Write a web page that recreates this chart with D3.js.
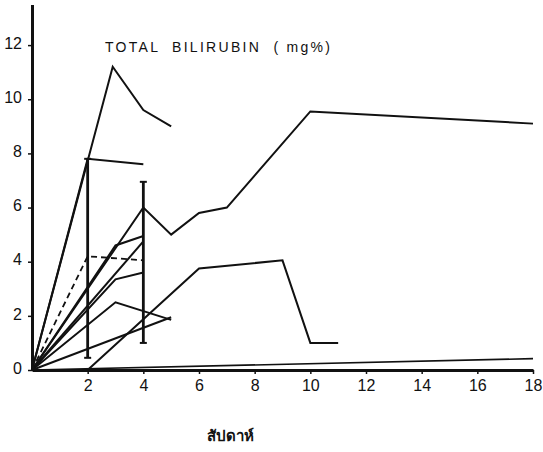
<!DOCTYPE html>
<html><head><meta charset="utf-8">
<script src="https://cdn.jsdelivr.net/npm/d3@7"></script>
<style>
body{margin:0;background:#fff;}
svg{display:block;}
text{font-family:"Liberation Sans",Arial,sans-serif;fill:#111;}
</style></head>
<body>
<svg id="c" width="543" height="452"></svg>
<script>
// ---- data (weeks, total bilirubin mg%) ----
const xTicks = [2,4,6,8,10,12,14,16,18];
const yTicks = [0,2,4,6,8,10,12];
const titleText = "TOTAL  BILIRUBIN  ( mg%)";
const xLabel = "สัปดาห์";

const patientA = [[0,0],[2.9,11.2],[4,9.6],[5,9.0]];
const patientB = [[0,0],[2,7.8],[4,7.6]];
const patientC = [[0,0],[4,6.0],[5,5.0],[6,5.8],[7,6.0],[10,9.55],[18,9.1]];
const patientD = [[0,0],[3,4.6],[4,4.95]];
const patientE = [[0,0],[4,4.75]];
const patientF = [[0,0],[3,3.35],[4,3.6]];
const patientG = [[0,0],[3,2.5],[5,1.85]];
const patientH = [[0,0],[5,1.95]];
const patientI = [[2,0],[6,3.75],[9,4.05],[10,1.0],[11,1.0]];
const patientJ = [[0,0],[18,0.42]];
const meanLine = [[0,0],[2,4.2],[4,4.05]];
const errWeeks = [2,4];
const errLow  = [0.45,1.0];
const errHigh = [7.8,6.95];

const solidSeries = [patientA,patientB,patientC,patientD,patientE,patientF,patientG,patientH,patientI];

const svg = d3.select("#c");
const x = d3.scaleLinear().domain([0,18]).range([32,533]);
const y = d3.scaleLinear().domain([0,13.5]).range([370,4.5]);

const line = d3.line().x(d=>x(d[0])).y(d=>y(d[1]));

// axes
const gx = svg.append("g").attr("transform","translate(0,370)")
  .call(d3.axisBottom(x).tickValues(xTicks).tickSize(4).tickSizeOuter(0).tickPadding(6));
gx.select(".domain").attr("stroke","#111").attr("stroke-width",3);
gx.selectAll(".tick line").attr("stroke","#111").attr("stroke-width",1.5);
gx.selectAll(".tick text").attr("font-size",16).attr("fill","#111");

const gy = svg.append("g").attr("transform","translate(32,0)")
  .call(d3.axisLeft(y).tickValues(yTicks).tickSize(4).tickSizeOuter(0).tickPadding(6));
gy.select(".domain").attr("stroke","#111").attr("stroke-width",3);
gy.selectAll(".tick line").attr("stroke","#111").attr("stroke-width",1.5);
gy.selectAll(".tick text").attr("font-size",16).attr("fill","#111").attr("dy","0.2em");

// patient lines
svg.append("g").selectAll("path").data(solidSeries).join("path")
  .attr("d",line).attr("fill","none").attr("stroke","#111")
  .attr("stroke-width",2).attr("stroke-linejoin","miter");
svg.append("path").datum(patientJ).attr("d",line).attr("fill","none")
  .attr("stroke","#111").attr("stroke-width",1.6);

// mean (dashed)
svg.append("path").datum(meanLine).attr("d",line).attr("fill","none")
  .attr("stroke","#111").attr("stroke-width",1.8).attr("stroke-dasharray","6,4");

// error bars
const eb = svg.append("g").selectAll("g").data(errWeeks.map((w,i)=>({w,lo:errLow[i],hi:errHigh[i]}))).join("g");
eb.append("line").attr("x1",d=>x(d.w)).attr("x2",d=>x(d.w)).attr("y1",d=>y(d.lo)).attr("y2",d=>y(d.hi))
  .attr("stroke","#111").attr("stroke-width",2.8);
eb.append("line").attr("x1",d=>x(d.w)-3.5).attr("x2",d=>x(d.w)+3.5).attr("y1",d=>y(d.lo)).attr("y2",d=>y(d.lo))
  .attr("stroke","#111").attr("stroke-width",2);
eb.append("line").attr("x1",d=>x(d.w)-3.5).attr("x2",d=>x(d.w)+3.5).attr("y1",d=>y(d.hi)).attr("y2",d=>y(d.hi))
  .attr("stroke","#111").attr("stroke-width",2);

// title
svg.append("text").attr("x",105).attr("y",52).attr("font-size",14)
  .attr("textLength",225).attr("lengthAdjust","spacing")
  .style("white-space","pre").text(titleText);

// x label
svg.append("text").attr("x",230).attr("y",441).attr("text-anchor","middle")
  .attr("font-size",15).attr("font-weight","bold").text(xLabel);
</script>
</body></html>
